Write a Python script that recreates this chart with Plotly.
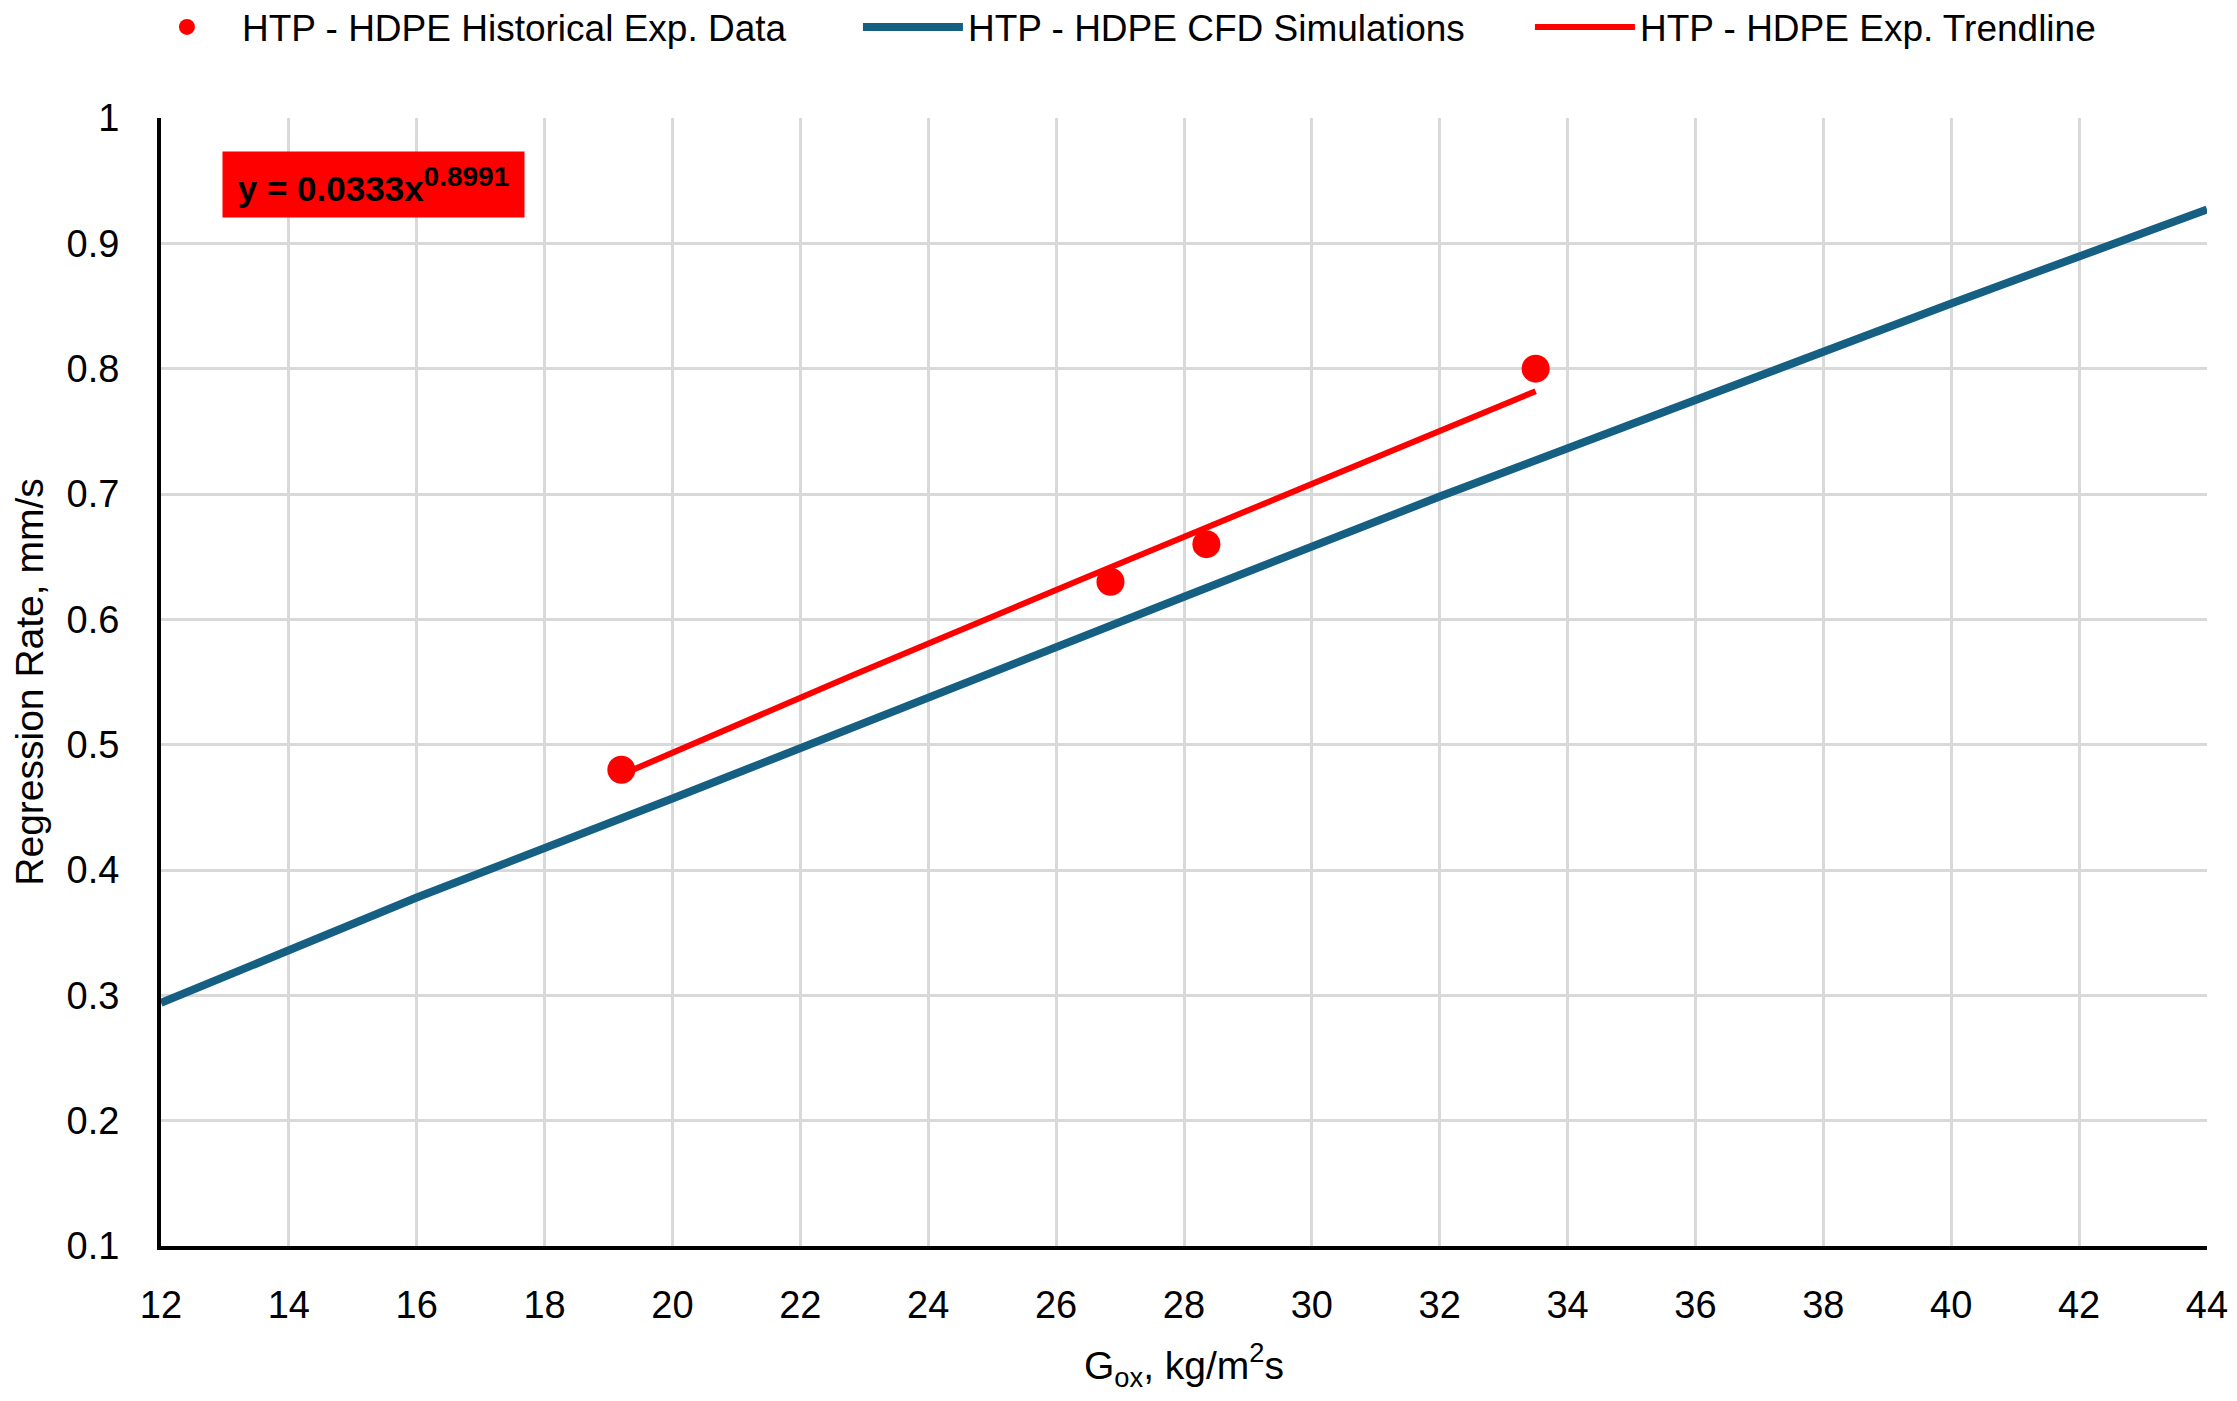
import plotly.graph_objects as go

exp_x = [19.2, 26.85, 28.35, 33.5]
exp_y = [0.48, 0.63, 0.66, 0.80]

# CFD simulation curve
cfd_x = [12, 16, 20, 24, 28, 32, 36, 40, 44]
cfd_y = [0.294, 0.378, 0.457, 0.538, 0.618, 0.698, 0.775, 0.852, 0.927]

trend_x = [19.2, 22.8, 26.4, 30.0, 33.5]
trend_y = [0.476, 0.555, 0.632, 0.708, 0.782]

x_ticks = [12, 14, 16, 18, 20, 22, 24, 26, 28, 30, 32, 34, 36, 38, 40, 42, 44]
y_ticks = [0.1, 0.2, 0.3, 0.4, 0.5, 0.6, 0.7, 0.8, 0.9, 1]
y_tick_labels = ["0.1", "0.2", "0.3", "0.4", "0.5", "0.6", "0.7", "0.8", "0.9", "1"]

FONT = "Liberation Sans, Arial, sans-serif"

fig = go.Figure()
fig.add_trace(go.Scatter(
    x=exp_x, y=exp_y, mode="markers",
    name="HTP - HDPE Historical Exp. Data",
    marker=dict(color="#FF0000", size=28),
    legendwidth=611,
))
fig.add_trace(go.Scatter(
    x=cfd_x, y=cfd_y, mode="lines",
    name="HTP - HDPE CFD Simulations",
    line=dict(color="#156082", width=8),
    legendwidth=557,
))
fig.add_trace(go.Scatter(
    x=trend_x, y=trend_y, mode="lines",
    name="HTP - HDPE Exp. Trendline",
    line=dict(color="#FF0000", width=6),
    legendwidth=500,
))

fig.add_annotation(
    xref="paper", yref="paper", x=0.0298, y=0.941,
    xanchor="left", yanchor="middle",
    text="<b>y = 0.0333x<sup><span style='font-size:28px'>0.8991</span></sup></b>",
    showarrow=False, bgcolor="#FF0000",
    font=dict(family=FONT, size=35, color="black"),
    width=291, height=55, borderpad=5, align="center",
)

fig.update_layout(
    width=2221, height=1385,
    margin=dict(l=153, r=22, t=110, b=147, autoexpand=False),
    paper_bgcolor="white", plot_bgcolor="white",
    font=dict(family=FONT, size=38, color="black"),
    showlegend=True,
    legend=dict(
        orientation="h", xref="container", yref="container",
        x=0.0558, xanchor="left", y=0.986, yanchor="middle",
        font=dict(family=FONT, size=37, color="black"),
        entrywidthmode="pixels",
        itemwidth=100, bgcolor="rgba(0,0,0,0)",
    ),
)
fig.update_xaxes(
    range=[12, 44], tickvals=x_ticks, ticktext=[str(v) for v in x_ticks],
    showgrid=True, gridcolor="#d9d9d9", gridwidth=2.5,
    showline=True, linecolor="black", linewidth=4,
    ticks="", ticklabelstandoff=22, zeroline=False, automargin=False,
    title=dict(text="G<sub>ox</sub>, kg/m<sup>2</sup>s", standoff=28,
               font=dict(family=FONT, size=39)),
    tickfont=dict(family=FONT, size=38),
)
fig.update_yaxes(
    range=[0.1, 1], tickvals=y_ticks, ticktext=y_tick_labels,
    showgrid=True, gridcolor="#d9d9d9", gridwidth=2.5,
    showline=True, linecolor="black", linewidth=4,
    ticks="", ticklabelstandoff=30, zeroline=False, automargin=False,
    title=dict(text="Regression Rate, mm/s", standoff=20,
               font=dict(family=FONT, size=39)),
    tickfont=dict(family=FONT, size=38),
)

fig.write_html("out.html")
